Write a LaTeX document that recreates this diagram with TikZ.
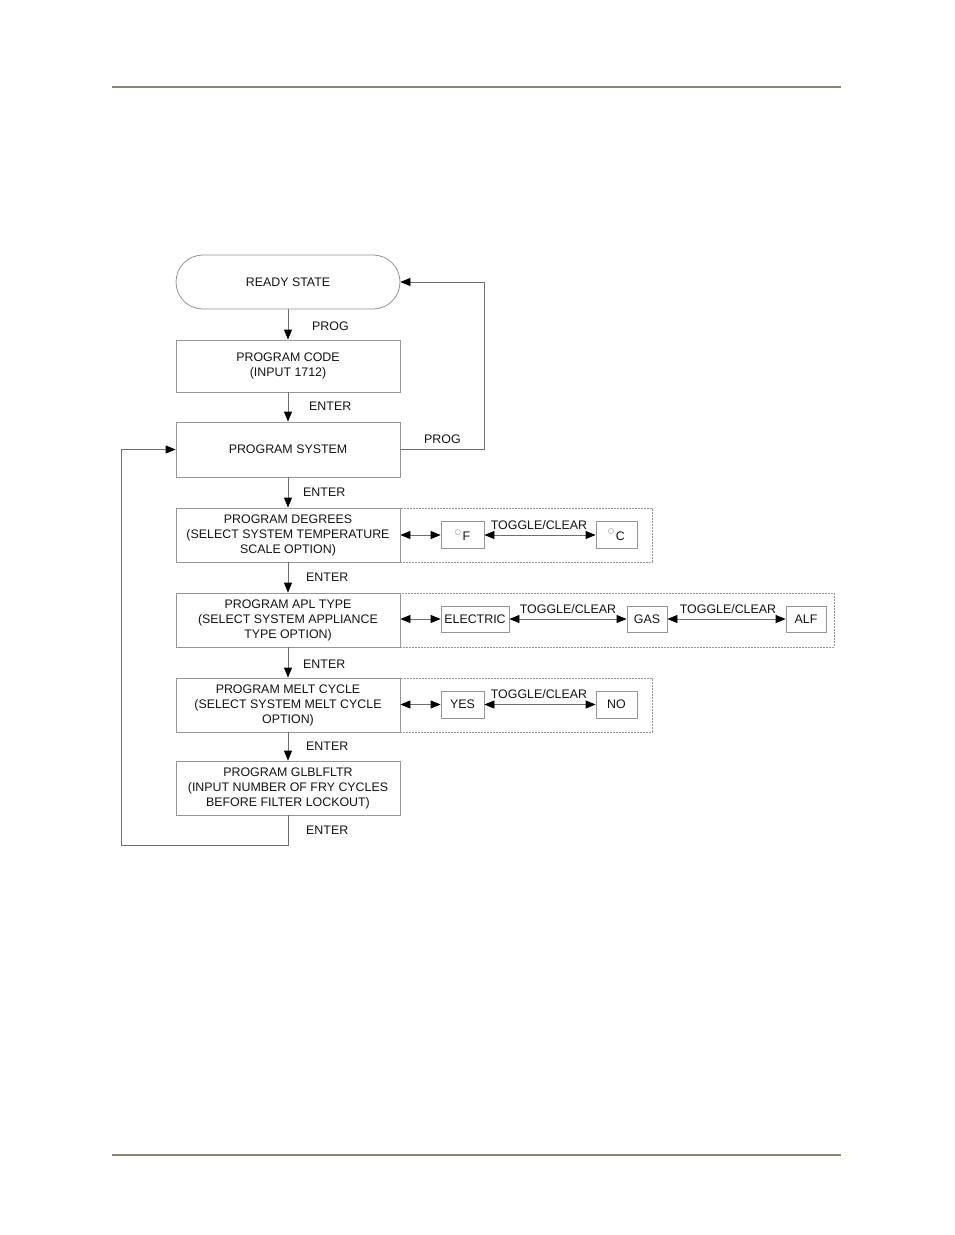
\documentclass[tikz,border=0pt]{standalone}
\usepackage{fontspec}
\setmainfont{Liberation Sans}
\newfontfamily\symfnt{DejaVu Sans}
\usetikzlibrary{arrows.meta}
\definecolor{rulec}{RGB}{140,134,112}
\definecolor{boxc}{RGB}{150,150,150}
\definecolor{linec}{RGB}{110,110,110}
\definecolor{txt}{RGB}{20,20,20}
\tikzset{tip/.tip={Triangle[length=10pt,width=8pt,color=black]}}
\newcommand{\degmark}{\raisebox{6.5pt}{\symfnt\fontsize{7}{7}\selectfont\color{boxc!80!black}○}\hspace{1.5pt}}
\begin{document}
\begin{tikzpicture}[x=1pt,y=-1pt,
  every node/.style={font=\fontsize{12.4}{15}\selectfont,text=txt},
  mainbox/.style={draw=boxc,line width=0.8pt,minimum width=224pt,minimum height=54pt,align=center,inner sep=0pt},
  optbox/.style={draw=boxc,line width=0.8pt,minimum height=27pt,inner sep=0pt,align=center},
  dashbox/.style={draw=boxc,dashed,dash pattern=on 2pt off 1pt,line width=0.6pt},
  conn/.style={draw=linec,line width=0.8pt,-tip},
  dconn/.style={draw=linec,line width=0.8pt,tip-tip},
  lbl/.style={inner sep=0pt,anchor=west}]
\useasboundingbox (0,0) rectangle (954,1235);
\fill[white] (0,0) rectangle (954,1235);
% rules
\draw[rulec,line width=1.6pt] (112,87) -- (841,87);
\draw[rulec,line width=1.6pt] (112,1155) -- (841,1155);

% main column
\node[mainbox,rounded corners=27pt] (ready) at (288,282) {READY STATE};
\node[mainbox,minimum height=52pt] (code) at (288,366) {PROGRAM CODE\\(INPUT 1712)};
\node[mainbox,minimum height=55pt] (sys) at (288,449.5) {PROGRAM SYSTEM};
\node[mainbox] (deg) at (288,535) {PROGRAM DEGREES\\(SELECT SYSTEM TEMPERATURE\\SCALE OPTION)};
\node[mainbox] (apl) at (288,620) {PROGRAM APL TYPE\\(SELECT SYSTEM APPLIANCE\\TYPE OPTION)};
\node[mainbox] (melt) at (288,705) {PROGRAM MELT CYCLE\\(SELECT SYSTEM MELT CYCLE\\OPTION)};
\node[mainbox] (glb) at (288,788) {PROGRAM GLBLFLTR\\(INPUT NUMBER OF FRY CYCLES\\BEFORE FILTER LOCKOUT)};

% dashed option areas
\draw[dashbox] (400,508) rectangle (652,562);
\draw[dashbox] (400,593) rectangle (834,647);
\draw[dashbox] (400,678) rectangle (652,732);

% option boxes
\node[optbox,minimum width=43pt] (fdeg) at (462.5,535) {\degmark F};
\node[optbox,minimum width=41pt] (cdeg) at (616.5,535) {\degmark C};
\node[optbox,minimum width=68pt,minimum height=26pt] (elec) at (475,619) {ELECTRIC};
\node[optbox,minimum width=40pt,minimum height=26pt] (gas) at (647,619) {GAS};
\node[optbox,minimum width=40pt,minimum height=26pt] (alf) at (806,619) {ALF};
\node[optbox,minimum width=43pt] (yes) at (462.5,704.5) {YES};
\node[optbox,minimum width=41pt] (no) at (616.5,704.5) {NO};

% vertical flow
\draw[conn] (ready) -- (code);
\draw[conn] (code) -- (sys);
\draw[conn] (sys) -- (deg);
\draw[conn] (deg) -- (apl);
\draw[conn] (apl) -- (melt);
\draw[conn] (melt) -- (glb);

% loops
\coordinate (lb) at (288,845);
\coordinate (ll) at (121,845);
\draw[conn] (glb.south) -- (lb) -- (ll) -- (ll |- sys.west) -- (sys.west);
\coordinate (pr) at (484,449.5);
\draw[conn] (sys.east) -- (pr) -- (pr |- ready.east) -- (ready.east);

% option connectors
\draw[dconn] (deg.east) -- (fdeg.west);
\draw[dconn] (fdeg.east) -- (cdeg.west);
\draw[dconn] (apl.east |- elec.west) -- (elec.west);
\draw[dconn] (elec.east) -- (gas.west);
\draw[dconn] (gas.east) -- (alf.west);
\draw[dconn] (melt.east |- yes.west) -- (yes.west);
\draw[dconn] (yes.east) -- (no.west);

% labels
\node[lbl] at (312,326) {PROG};
\node[lbl] at (309,406) {ENTER};
\node[lbl] at (424,439) {PROG};
\node[lbl] at (303,492) {ENTER};
\node[lbl] at (306,577) {ENTER};
\node[lbl] at (303,664) {ENTER};
\node[lbl] at (306,746) {ENTER};
\node[lbl] at (306,830) {ENTER};
\node[inner sep=0pt] at (539,525) {TOGGLE/CLEAR};
\node[inner sep=0pt] at (568,609.5) {TOGGLE/CLEAR};
\node[inner sep=0pt] at (728,609.5) {TOGGLE/CLEAR};
\node[inner sep=0pt] at (539,694.5) {TOGGLE/CLEAR};
\end{tikzpicture}
\end{document}
